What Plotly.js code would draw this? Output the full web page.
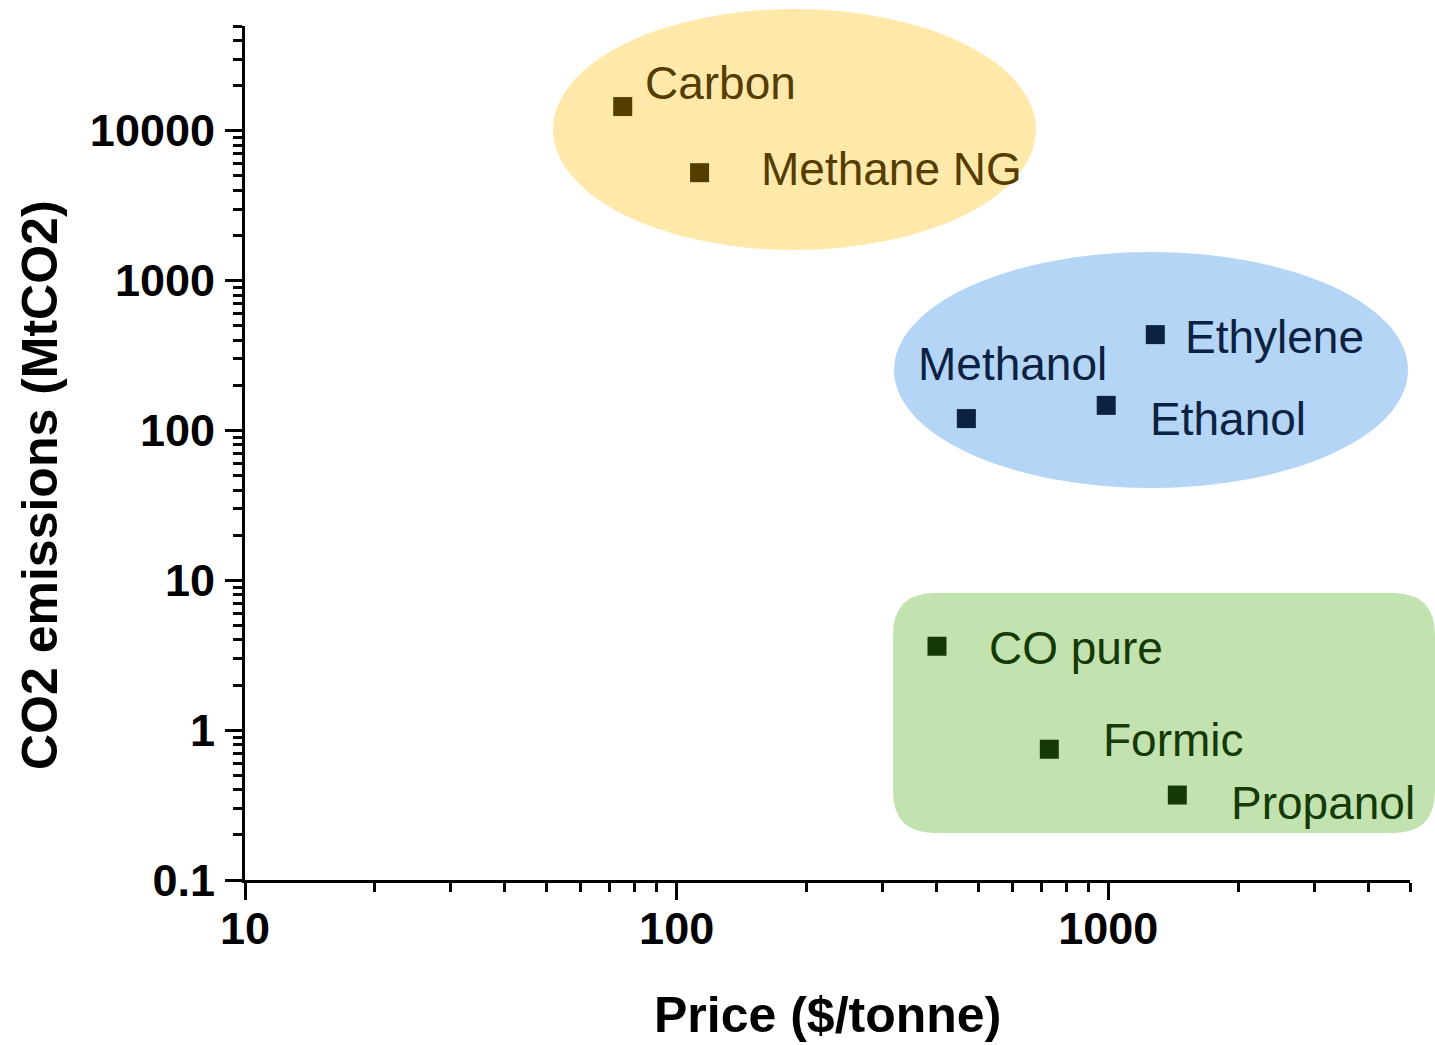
<!DOCTYPE html>
<html>
<head>
<meta charset="utf-8">
<script src="https://cdn.plot.ly/plotly-3.0.1.min.js"></script>
<style>html,body{margin:0;padding:0;background:#fff;}#chart{width:1435px;height:1045px;}</style>
</head>
<body>
<div id="chart"></div>
<script>
// ---- data ----
const products = ["Carbon", "Methane NG", "Ethylene", "Ethanol", "Methanol", "CO pure", "Formic", "Propanol"];
const priceUSDperTonne = [75, 113, 1285, 989, 469, 401, 730, 1445];
const co2EmissionsMt = [14500, 5250, 436, 147, 120, 3.63, 0.746, 0.369];
const productGroup = ["fossil", "fossil", "chem", "chem", "chem", "small", "small", "small"];

const xTickVals = [10, 100, 1000];
const xTickText = ["10", "100", "1000"];
const yTickVals = [0.1, 1, 10, 100, 1000, 10000];
const yTickText = ["0.1", "1", "10", "100", "1000", "10000"];

// ---- styling ----
const groupStyle = {
  fossil: {marker: "#553d00", text: "#553d00"},
  chem:   {marker: "#0b2242", text: "#0b2242"},
  small:  {marker: "#163a06", text: "#163a06"}
};
// label pixel offsets relative to each marker (left edge of text, vertical centre)
const labelOffset = {
  "Carbon": [22, 24], "Methane NG": [61, 4], "Ethylene": [30, -2], "Ethanol": [44, -14],
  "Methanol": [-48, 55], "CO pure": [52, -2], "Formic": [54, 9], "Propanol": [54, -8]
};

const FONT = "Liberation Sans, Arial, Helvetica, sans-serif";
const W = 1435, H = 1045;
const M = {l: 245, r: 25, t: 26, b: 165};
const PW = W - M.l - M.r, PH = H - M.t - M.b;
const px = x => (x - M.l) / PW;            // pixel -> paper x
const py = y => (H - M.b - y) / PH;        // pixel -> paper y

function minorTicks(lo, hi) {
  const v = [];
  for (let d = lo; d <= hi; d++) {
    for (let k = 2; k <= 9; k++) v.push(k * Math.pow(10, d));
  }
  return v;
}

const traces = Object.keys(groupStyle).map(g => {
  const idx = productGroup.map((pg, i) => pg === g ? i : -1).filter(i => i >= 0);
  return {
    type: "scatter", mode: "markers",
    x: idx.map(i => priceUSDperTonne[i]),
    y: idx.map(i => co2EmissionsMt[i]),
    text: idx.map(i => products[i]),
    marker: {symbol: "square", size: 19, color: groupStyle[g].marker},
    hoverinfo: "text+x+y", showlegend: false, cliponaxis: false
  };
});

const annotations = products.map((p, i) => ({
  x: Math.log10(priceUSDperTonne[i]), y: Math.log10(co2EmissionsMt[i]),
  xref: "x", yref: "y", text: p, showarrow: false,
  xanchor: "left", yanchor: "middle",
  xshift: labelOffset[p][0] - 2, yshift: labelOffset[p][1],
  font: {family: FONT, size: 46, color: groupStyle[productGroup[i]].text}
}));
annotations.push({
  xref: "paper", yref: "paper", x: px(827), y: py(1015), text: "<b>Price ($/tonne)</b>",
  showarrow: false, xanchor: "center", yanchor: "middle",
  font: {family: FONT, size: 50, color: "#000"}
});
annotations.push({
  xref: "paper", yref: "paper", x: px(40), y: py(485), text: "<b>CO2 emissions (MtCO2)</b>",
  showarrow: false, xanchor: "center", yanchor: "middle", textangle: -90,
  font: {family: FONT, size: 50, color: "#000"}
});

// rounded rectangle (paper coords) for the green group
function roundRect(x0, y0, x1, y1, r) {
  const rx = r / PW, ry = r / PH;
  const X0 = px(x0), X1 = px(x1), Yt = py(y0), Yb = py(y1);
  return `M ${X0 + rx},${Yt} L ${X1 - rx},${Yt} Q ${X1},${Yt} ${X1},${Yt - ry} ` +
         `L ${X1},${Yb + ry} Q ${X1},${Yb} ${X1 - rx},${Yb} L ${X0 + rx},${Yb} ` +
         `Q ${X0},${Yb} ${X0},${Yb + ry} L ${X0},${Yt - ry} Q ${X0},${Yt} ${X0 + rx},${Yt} Z`;
}

const shapes = [
  {type: "circle", xref: "paper", yref: "paper", layer: "below",
   x0: px(553), x1: px(1036), y0: py(250), y1: py(9),
   fillcolor: "#ffe9aa", line: {width: 0}},
  {type: "circle", xref: "paper", yref: "paper", layer: "below",
   x0: px(894), x1: px(1408), y0: py(488), y1: py(252),
   fillcolor: "#b4d5f5", line: {width: 0}},
  {type: "path", xref: "paper", yref: "paper", layer: "below",
   path: roundRect(893, 593, 1435, 833, 42),
   fillcolor: "#c2e3b0", line: {width: 0}}
];

const axisCommon = {
  type: "log", showgrid: false, zeroline: false, showline: true,
  linecolor: "#000", linewidth: 3, ticks: "outside", ticklen: 17, tickwidth: 3, tickcolor: "#000",
  tickfont: {family: FONT, size: 45, color: "#000", weight: "bold"},
  tickmode: "array", mirror: false
};

const layout = {
  width: W, height: H, margin: M,
  paper_bgcolor: "#fff", plot_bgcolor: "rgba(0,0,0,0)",
  showlegend: false,
  xaxis: Object.assign({}, axisCommon, {
    range: [1, Math.log10(5000)], tickvals: xTickVals, ticktext: xTickText,
    minor: {tickmode: "array", tickvals: minorTicks(1, 3).filter(v => v <= 5000),
            ticks: "outside", ticklen: 9, tickwidth: 3, tickcolor: "#000", showgrid: false},
    ticklabelstandoff: -10
  }),
  yaxis: Object.assign({}, axisCommon, {
    range: [-1, Math.log10(50000)], tickvals: yTickVals, ticktext: yTickText,
    minor: {tickmode: "array", tickvals: minorTicks(-1, 4).filter(v => v <= 50000),
            ticks: "outside", ticklen: 9, tickwidth: 3, tickcolor: "#000", showgrid: false},
    ticklabelstandoff: 1
  }),
  shapes: shapes,
  annotations: annotations
};

Plotly.newPlot("chart", traces, layout, {displayModeBar: false, staticPlot: true});
</script>
</body>
</html>
